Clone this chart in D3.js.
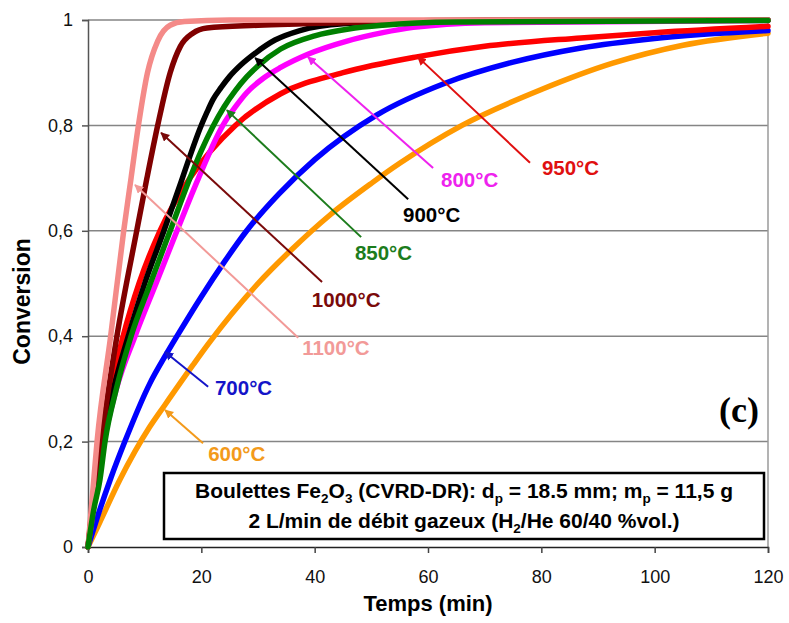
<!DOCTYPE html>
<html><head><meta charset="utf-8">
<script src="https://cdn.jsdelivr.net/npm/d3@7"></script>
<style>body{margin:0;background:#fff}</style>
</head><body>
<svg id="chart" width="789" height="623"></svg>
<script>
// ---------- data ----------
const xTicks = [0, 20, 40, 60, 80, 100, 120];
const yTicks = [0, 0.2, 0.4, 0.6, 0.8, 1];
const yTickLabels = ["0", "0,2", "0,4", "0,6", "0,8", "1"];

const time600 = [0, 2, 5.6, 10.9, 13.6, 18.5, 21.2, 30, 36, 42.7, 50, 55, 66, 80, 92.6, 105, 120];
const conv600 = [0, 0.045, 0.127, 0.228, 0.27, 0.345, 0.385, 0.5, 0.565, 0.63, 0.69, 0.728, 0.8, 0.868, 0.918, 0.952, 0.975];

const time700 = [0, 2, 4, 6.5, 10.9, 13.6, 15.7, 20, 24, 28, 33.7, 40, 51, 63, 75, 87, 100, 120];
const conv700 = [0, 0.068, 0.13, 0.2, 0.31, 0.362, 0.4, 0.475, 0.54, 0.6, 0.67, 0.735, 0.82, 0.88, 0.92, 0.947, 0.965, 0.98];

const time950 = [0, 1, 2.3, 4, 6.2, 9, 12.7, 18, 26, 34, 45, 58, 70, 87, 100, 120];
const conv950 = [0, 0.1, 0.2, 0.3, 0.4, 0.5, 0.6, 0.7, 0.8, 0.86, 0.9, 0.93, 0.95, 0.966, 0.976, 0.988];

const time800 = [0, 1, 2.8, 5, 8.3, 12, 15.7, 19.5, 23.8, 26, 28, 31, 34, 38.8, 45.7, 52, 57.4, 70, 120];
const conv800 = [0, 0.075, 0.2, 0.3, 0.4, 0.5, 0.6, 0.7, 0.8, 0.835, 0.862, 0.89, 0.91, 0.935, 0.96, 0.976, 0.986, 0.995, 0.999];

const time900 = [0, 1, 2.5, 4.5, 7.1, 10, 13.4, 16.5, 18, 19.8, 21, 22, 23.5, 25, 27, 29.5, 33, 37.4, 45, 60, 120];
const conv900 = [0, 0.09, 0.2, 0.3, 0.4, 0.5, 0.6, 0.695, 0.742, 0.795, 0.825, 0.848, 0.872, 0.893, 0.915, 0.937, 0.962, 0.98, 0.993, 0.998, 1];

const time1000 = [0, 1, 2.3, 5.1, 8.6, 10.4, 12.3, 14.5, 16.3, 18.5, 21, 30, 45, 70, 120];
const conv1000 = [0, 0.09, 0.2, 0.4, 0.6, 0.7, 0.8, 0.9, 0.95, 0.975, 0.985, 0.99, 0.995, 1, 1];

const time1100 = [0, 0.8, 1.6, 4, 6.3, 7.6, 8.9, 10.5, 12.3, 14.5, 17, 25, 120];
const conv1100 = [0, 0.1, 0.2, 0.4, 0.6, 0.7, 0.8, 0.9, 0.96, 0.99, 0.997, 1, 1];

const time850 = [0, 1, 2.1, 3, 5, 7.6, 11, 14.5, 18, 20, 22, 24, 26, 28, 30, 34, 40, 46, 52, 65, 120];
const conv850 = [0, 0.07, 0.127, 0.2, 0.3, 0.4, 0.5, 0.6, 0.7, 0.752, 0.797, 0.835, 0.866, 0.892, 0.913, 0.945, 0.97, 0.983, 0.99, 0.996, 0.999];

// drawing order (last on top)
const seriesNames = ["600°C", "700°C", "950°C", "800°C", "900°C", "1000°C", "1100°C", "850°C"];
const seriesTimes = [time600, time700, time950, time800, time900, time1000, time1100, time850];
const seriesConv  = [conv600, conv700, conv950, conv800, conv900, conv1000, conv1100, conv850];

// annotation anchors (data coordinates): arrow head, arrow tail, label (left, middle)
const annNames = ["950°C", "800°C", "900°C", "850°C", "1000°C", "1100°C", "700°C", "600°C"];
const annHeadT = [58.2, 38.8, 29.5, 24.5, 12.9, 8.3, 13.6, 13.6];
const annHeadX = [0.930, 0.930, 0.928, 0.829, 0.786, 0.687, 0.370, 0.260];
const annTailT = [78.0, 60.9, 56.5, 48.2, 41.3, 37.1, 21.2, 20.3];
const annTailX = [0.729, 0.719, 0.660, 0.588, 0.503, 0.397, 0.304, 0.197];
const annTextT = [80.1, 62.3, 55.6, 47.1, 39.5, 37.8, 22.4, 21.2];
const annTextX = [0.719, 0.698, 0.630, 0.558, 0.469, 0.378, 0.302, 0.178];

// ---------- styles ----------
const lineColor = {
  "600°C": "#FF9900", "700°C": "#0000FF", "800°C": "#FF00FF", "850°C": "#008000",
  "900°C": "#000000", "950°C": "#FF0000", "1000°C": "#800000", "1100°C": "#F48A88"
};
const labelColor = {
  "600°C": "#F39A1B", "700°C": "#1414C8", "800°C": "#EE22EE", "850°C": "#1C7C1C",
  "900°C": "#000000", "950°C": "#E01010", "1000°C": "#7A0A0A", "1100°C": "#F29A98"
};

const FONT = "'Liberation Sans', Arial, Helvetica, sans-serif";
const svg = d3.select("#chart");
const m = {left: 88, right: 768, top: 20, bottom: 547};

const x = d3.scaleLinear().domain([0, 120]).range([m.left, m.right]);
const y = d3.scaleLinear().domain([0, 1]).range([m.bottom, m.top]);

// gridlines
svg.append("g").selectAll("line").data(yTicks.filter(d => d > 0)).join("line")
  .attr("x1", m.left).attr("x2", m.right)
  .attr("y1", d => y(d)).attr("y2", d => y(d))
  .attr("stroke", "#858585").attr("stroke-width", 1.5);
// right border
svg.append("line").attr("x1", m.right).attr("x2", m.right)
  .attr("y1", m.top).attr("y2", m.bottom)
  .attr("stroke", "#9a9a9a").attr("stroke-width", 1.5);

// axes
const yAxis = d3.axisLeft(y).tickValues(yTicks)
  .tickFormat((d, i) => yTickLabels[i]).tickSize(6).tickPadding(9);
const gy = svg.append("g").attr("transform", `translate(${m.left},0)`).call(yAxis);
gy.select(".domain").attr("stroke", "#555").attr("stroke-width", 1.5);
gy.selectAll(".tick line").attr("stroke", "#555").attr("stroke-width", 1.5);
gy.selectAll("text").attr("font-family", FONT).attr("font-size", 18).attr("fill", "#111");

const xAxis = d3.axisBottom(x).tickValues(xTicks).tickFormat(d3.format("d"))
  .tickSize(6).tickPadding(17);
const gx = svg.append("g").attr("transform", `translate(0,${m.bottom})`).call(xAxis);
gx.select(".domain").attr("stroke", "#222").attr("stroke-width", 1.5);
gx.selectAll(".tick line").attr("stroke", "#444").attr("stroke-width", 1.5);
gx.selectAll("text").attr("font-family", FONT).attr("font-size", 18).attr("fill", "#111");

// axis titles
svg.append("text").attr("x", x(60)).attr("y", 611)
  .attr("text-anchor", "middle").attr("font-family", FONT)
  .attr("font-size", 22).attr("font-weight", "bold").text("Temps (min)");
svg.append("text").attr("transform", `translate(30,${(m.top + m.bottom) / 2 + 18}) rotate(-90)`)
  .attr("text-anchor", "middle").attr("font-family", FONT)
  .attr("font-size", 23).attr("font-weight", "bold").text("Conversion");

// curves
const line = d3.line().x(d => x(d[0])).y(d => y(d[1])).curve(d3.curveMonotoneX);
seriesNames.forEach((name, i) => {
  const pts = seriesTimes[i].map((t, k) => [t, seriesConv[i][k]]);
  svg.append("path").datum(pts)
    .attr("d", line)
    .attr("fill", "none")
    .attr("stroke", lineColor[name])
    .attr("stroke-width", 5.5)
    .attr("stroke-linejoin", "round")
    .attr("stroke-linecap", "round");
});

// arrow markers
const defs = svg.append("defs");
annNames.forEach((name, i) => {
  defs.append("marker").attr("id", "arr" + i)
    .attr("viewBox", "0 0 10 10").attr("refX", 9).attr("refY", 5)
    .attr("markerWidth", 4.5).attr("markerHeight", 4.5)
    .attr("markerUnits", "strokeWidth").attr("orient", "auto")
    .append("path").attr("d", "M0,0 L10,5 L0,10 z").attr("fill", labelColor[name]);
});

// annotations
annNames.forEach((name, i) => {
  svg.append("line")
    .attr("x1", x(annTailT[i])).attr("y1", y(annTailX[i]))
    .attr("x2", x(annHeadT[i])).attr("y2", y(annHeadX[i]))
    .attr("stroke", labelColor[name]).attr("stroke-width", 2)
    .attr("marker-end", `url(#arr${i})`);
  svg.append("text")
    .attr("x", x(annTextT[i])).attr("y", y(annTextX[i]))
    .attr("dy", "0.36em")
    .attr("font-family", FONT).attr("font-size", 20.5).attr("font-weight", "bold")
    .attr("fill", labelColor[name]).text(name);
});

// (c)
svg.append("text").attr("x", 739).attr("y", 422).attr("text-anchor", "middle")
  .attr("font-family", "'Liberation Serif', 'Times New Roman', serif")
  .attr("font-size", 36).attr("font-weight", "bold").text("(c)");

// info box
svg.append("rect").attr("x", 164).attr("y", 473).attr("width", 600).attr("height", 66)
  .attr("fill", "#fff").attr("stroke", "#000").attr("stroke-width", 2.5);

function richLine(yPos, parts) {
  const t = svg.append("text").attr("x", 464).attr("y", yPos)
    .attr("text-anchor", "middle").attr("font-family", FONT)
    .attr("font-size", 21).attr("font-weight", "bold").attr("fill", "#000");
  let shifted = false;
  parts.forEach(p => {
    if (typeof p === "string") {
      const ts = t.append("tspan").text(p);
      if (shifted) { ts.attr("dy", -5); shifted = false; }
    } else {
      t.append("tspan").attr("font-size", 13.5).attr("dy", 5).text(p.sub);
      shifted = true;
    }
  });
}
richLine(498, ["Boulettes Fe", {sub: "2"}, "O", {sub: "3"}, " (CVRD-DR): d", {sub: "p"},
  " = 18.5 mm; m", {sub: "p"}, " = 11,5 g"]);
richLine(528, ["2 L/min de débit gazeux (H", {sub: "2"}, "/He 60/40 %vol.)"]);
</script>
</body></html>
